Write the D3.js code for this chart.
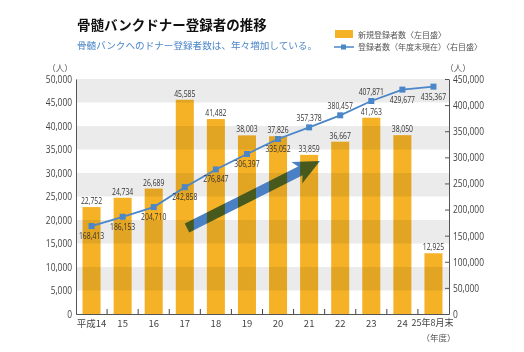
<!DOCTYPE html>
<html>
<head>
<meta charset="utf-8">
<script src="https://cdn.jsdelivr.net/npm/d3@7"></script>
<style>
body { margin:0; background:#fff; }
text { font-family: "Noto Sans CJK JP", sans-serif; }
.num { font-family: "Open Sans", sans-serif; }
</style>
</head>
<body>
<div id="chart"></div>
<script>
// data
var years = ['平成14','15','16','17','18','19','20','21','22','23','24','25年8月末']
var newDonors = [22752,24734,26689,45585,41482,38003,37826,33859,36667,41763,38050,12925]
var totalDonors = [168413,186153,204710,242858,276847,306397,335052,357378,380457,407871,429677,435367]
// which cumulative labels sit above the point
var labelAbove = [false,false,false,false,false,false,false,true,true,true,false,false]
var leftTicks = [0,5000,10000,15000,20000,25000,30000,35000,40000,45000,50000]
var rightTicks = [0,50000,100000,150000,200000,250000,300000,350000,400000,450000]

var W = 524, H = 352
var margin = {top: 79, right: 75, bottom: 38, left: 76},
    width = W - margin.left - margin.right,
    height = H - margin.top - margin.bottom

var orange = '#f6b226', blue = '#4a86c8'

// squeeze number texts sideways, the original uses a narrow face
function narrow(sel, k) {
    sel.each(function() {
        var t = d3.select(this)
        var tx = +t.attr('x') || 0, ty = +t.attr('y') || 0
        t.attr('x', 0).attr('y', 0)
         .attr('transform', 'translate(' + tx + ',' + ty + ') scale(' + k + ',1)')
    })
}

var svg = d3.select('#chart').append('svg')
    .attr('width', W).attr('height', H)

// titles
svg.append('text').attr('x', 77).attr('y', 30)
    .style('font-size', '13.5px').style('font-weight', 'bold').attr('fill', '#111')
    .text('骨髄バンクドナー登録者の推移')
svg.append('text').attr('x', 77).attr('y', 49)
    .style('font-size', '9.6px').attr('fill', blue)
    .text('骨髄バンクへのドナー登録者数は、年々増加している。')

// legend
svg.append('rect').attr('x', 335).attr('y', 30).attr('width', 18).attr('height', 8).attr('fill', orange)
svg.append('text').attr('x', 358).attr('y', 37.5).style('font-size', '8px').attr('fill', '#555')
    .text('新規登録者数〈左目盛〉')
svg.append('line').attr('x1', 334).attr('x2', 354).attr('y1', 47).attr('y2', 47)
    .attr('stroke', blue).attr('stroke-width', 1.5)
svg.append('rect').attr('x', 341).attr('y', 44.5).attr('width', 5).attr('height', 5).attr('fill', blue)
svg.append('text').attr('x', 358).attr('y', 50).style('font-size', '8px').attr('fill', '#555')
    .text('登録者数（年度末現在）〈右目盛〉')

var g = svg.append('g').attr('transform', 'translate(' + margin.left + ',' + margin.top + ')')

var x = d3.scaleBand().domain(years).range([0, width]).paddingInner(0.42).paddingOuter(0.21)
var yL = d3.scaleLinear().domain([0, 50000]).range([height, 0])
var yR = d3.scaleLinear().domain([0, 450000]).range([height, 0])

// gray bands
var bands = leftTicks.filter(function(d, i) { return i % 2 == 1 })
g.selectAll('.band').data(bands).enter().append('rect')
    .attr('x', 0).attr('width', width)
    .attr('y', function(d) { return yL(d + 5000) })
    .attr('height', function(d) { return yL(d) - yL(d + 5000) })
    .attr('fill', '#ebebeb')

// trend arrow
var ax1 = 111, ay1 = 149, ax2 = 244, ay2 = 82
var ang = Math.atan2(ay2 - ay1, ax2 - ax1) * 180 / Math.PI
var len = Math.hypot(ax2 - ax1, ay2 - ay1)
g.append('path')
    .attr('transform', 'translate(' + ax1 + ',' + ay1 + ') rotate(' + ang + ')')
    .attr('d', 'M0,-5 L' + (len - 22) + ',-5 L' + (len - 26) + ',-12 L' + len + ',0 L' + (len - 26) + ',12 L' + (len - 22) + ',5 L0,5 Z')
    .attr('fill', '#4a80c4')

// bars (multiply over bands and arrow)
g.selectAll('.bar').data(newDonors).enter().append('rect')
    .attr('x', function(d, i) { return x(years[i]) })
    .attr('y', function(d) { return yL(d) })
    .attr('width', x.bandwidth())
    .attr('height', function(d) { return height - yL(d) })
    .attr('fill', orange)
    .style('mix-blend-mode', 'multiply')

g.selectAll('.barlab').data(newDonors).enter().append('text')
    .attr('class', 'num')
    .attr('x', function(d, i) { return x(years[i]) + x.bandwidth() / 2 })
    .attr('y', function(d) { return yL(d) - 3 })
    .attr('text-anchor', 'middle')
    .style('font-size', '9.5px').attr('fill', '#333')
    .text(function(d) { return d3.format(',')(d) })
    .call(narrow, 0.72)

// axes
var axL = g.append('g').call(d3.axisLeft(yL).tickValues(leftTicks).tickSize(0).tickPadding(4).tickFormat(d3.format(',')))
axL.select('.domain').attr('stroke', '#555')
axL.selectAll('text').attr('class', 'num').style('font-size', '10.5px').attr('fill', '#444')
    .call(narrow, 0.8)

var axR = g.append('g').attr('transform', 'translate(' + width + ',0)')
    .call(d3.axisRight(yR).tickValues(rightTicks).tickSizeInner(-4).tickSizeOuter(0).tickPadding(4).tickFormat(d3.format(',')))
axR.select('.domain').attr('stroke', '#555')
axR.selectAll('line').attr('stroke', '#555')
axR.selectAll('text').attr('class', 'num').style('font-size', '10.5px').attr('fill', '#444')
    .attr('x', 4).call(narrow, 0.8)

var axB = g.append('g').attr('transform', 'translate(0,' + height + ')')
    .call(d3.axisBottom(x).tickSize(0).tickPadding(6))
axB.select('.domain').attr('stroke', '#555')
axB.selectAll('text').style('font-size', '9.5px').attr('fill', '#444')
axB.selectAll('text').filter(function(d) { return d == years[11] }).style('font-size', '9px').attr('dx', -1)
// small ticks between categories
g.selectAll('.sep').data(years.slice(1)).enter().append('line')
    .attr('x1', function(d) { return x(d) - x.step() * x.paddingInner() / 2 })
    .attr('x2', function(d) { return x(d) - x.step() * x.paddingInner() / 2 })
    .attr('y1', height - 5).attr('y2', height)
    .attr('stroke', '#444')

// unit labels
g.append('text').attr('x', -16).attr('y', -8).attr('text-anchor', 'middle')
    .style('font-size', '8.5px').attr('fill', '#555').text('（人）')
g.append('text').attr('x', width + 9).attr('y', -8).attr('text-anchor', 'middle')
    .style('font-size', '8.5px').attr('fill', '#555').text('（人）')
g.append('text').attr('x', x(years[11]) + x.bandwidth() / 2 + 5).attr('y', height + 27).attr('text-anchor', 'middle')
    .style('font-size', '8.5px').attr('fill', '#555').text('（年度）')

// cumulative line
var line = d3.line()
    .x(function(d, i) { return x(years[i]) + x.bandwidth() / 2 })
    .y(function(d) { return yR(d) })
g.append('path').datum(totalDonors).attr('d', line)
    .attr('fill', 'none').attr('stroke', blue).attr('stroke-width', 1.8)
g.selectAll('.pt').data(totalDonors).enter().append('rect')
    .attr('x', function(d, i) { return x(years[i]) + x.bandwidth() / 2 - 3 })
    .attr('y', function(d) { return yR(d) - 3 })
    .attr('width', 6).attr('height', 6)
    .attr('fill', blue)
g.selectAll('.ptlab').data(totalDonors).enter().append('text')
    .attr('class', 'num')
    .attr('x', function(d, i) { return x(years[i]) + x.bandwidth() / 2 })
    .attr('y', function(d, i) { return labelAbove[i] ? yR(d) - 6 : yR(d) + 13 })
    .attr('text-anchor', 'middle')
    .style('font-size', '9.5px').attr('fill', '#333')
    .text(function(d) { return d3.format(',')(d) })
    .call(narrow, 0.72)
</script>
</body>
</html>
